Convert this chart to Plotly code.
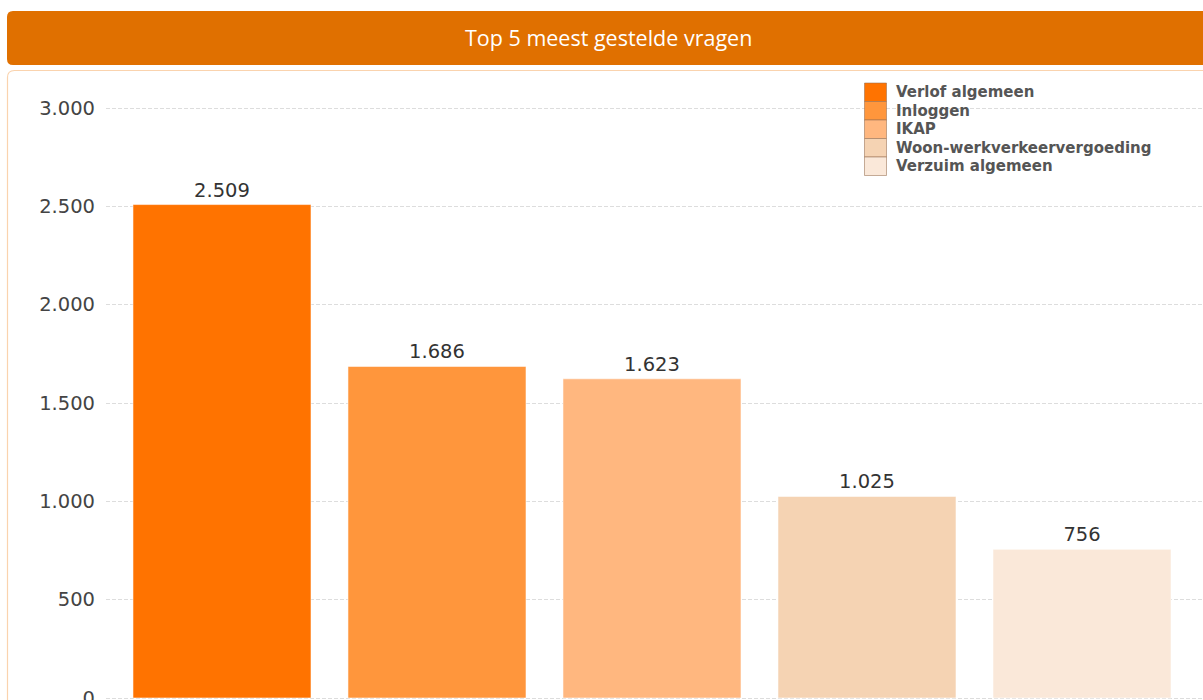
import plotly.graph_objects as go

categories = ["Verlof algemeen", "Inloggen", "IKAP", "Woon-werkverkeervergoeding", "Verzuim algemeen"]
values = [2509, 1686, 1623, 1025, 756]
colors = ["#FF7300", "#FF963C", "#FFB77F", "#F5D3B3", "#FAE8D9"]
title_text = "Top 5 meest gestelde vragen"
y_ticks = [0, 500, 1000, 1500, 2000, 2500, 3000]

W, H = 1203, 700


def px(x):
    return x / W


def py(y):
    return 1 - y / H


def rounded_path(x0, y0, x1, y1, r):
    pts = [
        f"M {px(x0 + r)},{py(y0)}",
        f"L {px(x1 - r)},{py(y0)}",
        f"Q {px(x1)},{py(y0)} {px(x1)},{py(y0 + r)}",
        f"L {px(x1)},{py(y1 - r)}",
        f"Q {px(x1)},{py(y1)} {px(x1 - r)},{py(y1)}",
        f"L {px(x0 + r)},{py(y1)}",
        f"Q {px(x0)},{py(y1)} {px(x0)},{py(y1 - r)}",
        f"L {px(x0)},{py(y0 + r)}",
        f"Q {px(x0)},{py(y0)} {px(x0 + r)},{py(y0)}",
        "Z",
    ]
    return " ".join(pts)


fig = go.Figure()
fig.add_trace(go.Bar(
    x=categories,
    y=values,
    marker=dict(color=colors, line=dict(color="rgba(255,255,255,0.55)", width=1)),
    texttemplate="%{y:,}",
    textposition="outside",
    textfont=dict(family="DejaVu Sans", size=19.5, color="#333333"),
    cliponaxis=False,
    showlegend=False,
    hoverinfo="x+y",
))

shapes = []
shapes.append(dict(type="path", xref="paper", yref="paper",
                   path=rounded_path(7, 11, 1212, 65, 6),
                   fillcolor="#E07000", line=dict(width=0), layer="below"))
shapes.append(dict(type="path", xref="paper", yref="paper",
                   path=rounded_path(7.5, 70.5, 1215, 730, 7),
                   fillcolor="rgba(0,0,0,0)", line=dict(color="#FAD3AE", width=1.2), layer="below"))

annotations = [dict(text=title_text, xref="paper", yref="paper", x=px(608), y=py(38),
                    xanchor="center", yanchor="middle", showarrow=False,
                    font=dict(family="Open Sans", size=21.5, color="#FFFFFF"))]

row_h = 18.5
top0 = 83
for i, (cat, col) in enumerate(zip(categories, colors)):
    y0 = top0 + i * row_h
    shapes.append(dict(type="rect", xref="paper", yref="paper",
                       x0=px(864.5), x1=px(886.5), y0=py(y0), y1=py(y0 + row_h),
                       fillcolor=col, line=dict(color="rgba(150,110,80,0.55)", width=1)))
    annotations.append(dict(text=cat, xref="paper", yref="paper",
                            x=px(894), y=py(y0 + row_h / 2), xanchor="left", yanchor="middle",
                            showarrow=False,
                            font=dict(family="DejaVu Sans", size=15, color="#555555", weight="bold")))

fig.update_layout(
    width=W, height=H,
    margin=dict(l=0, r=0, t=0, b=0),
    paper_bgcolor="white",
    plot_bgcolor="white",
    separators=",.",
    bargap=0.172,
    shapes=shapes,
    annotations=annotations,
    xaxis=dict(domain=[px(106), 1.0], range=[-0.5395, 4.5628], showticklabels=False,
               showgrid=False, zeroline=False, showline=False, ticks="", automargin=False),
    yaxis=dict(domain=[0, py(80)], range=[-10.17, 3142.4], tickvals=y_ticks,
               tickformat=",d", showgrid=True, gridcolor="#DDDDDD", griddash="4px,2px",
               gridwidth=1, zeroline=False, showline=False, ticks="",
               ticklabelstandoff=10, ticklabeloverflow="allow", automargin=False,
               tickfont=dict(family="DejaVu Sans", size=19.5, color="#444444")),
)

fig.write_html("out.html")
